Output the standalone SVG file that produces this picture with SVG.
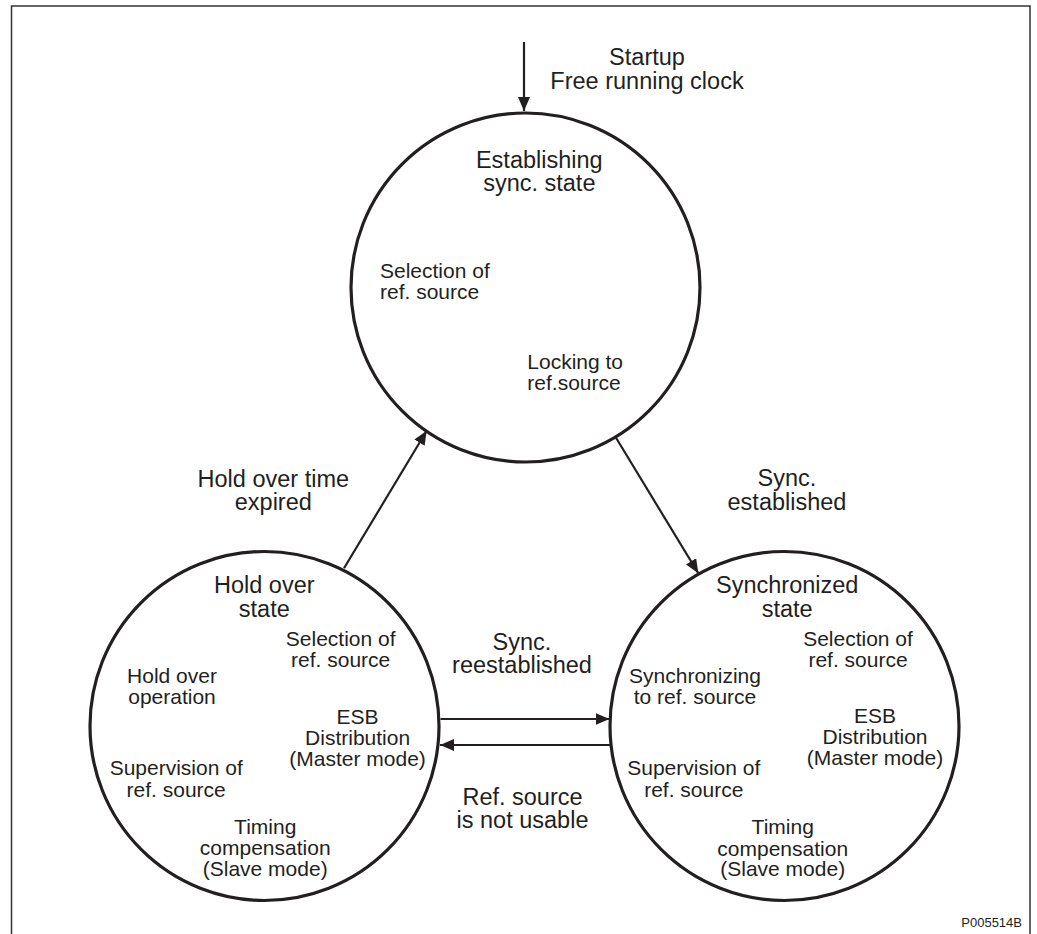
<svg xmlns="http://www.w3.org/2000/svg" width="1037" height="934" viewBox="0 0 1037 934">
<style>
text{font-family:"Liberation Sans",Arial,sans-serif;fill:#231f20;text-anchor:middle}
.t{font-size:23.5px}
.s{font-size:21px}
.l{text-anchor:start}
.id{font-size:13px;text-anchor:end}
.state{fill:#fff;stroke:#231f20;stroke-width:3.2}
.conn{fill:none;stroke:#231f20;stroke-width:2.2;marker-end:url(#ah)}
</style>
<defs>
<marker id="ah" viewBox="0 0 14 12" refX="14" refY="6" markerWidth="14" markerHeight="12" markerUnits="userSpaceOnUse" orient="auto">
<path d="M0,0 L14,6 L0,12 z" fill="#231f20"/>
</marker>
</defs>
<rect width="1037" height="934" fill="#fff"/>
<path d="M11.5,934 V6 H1030 V934" fill="none" stroke="#333" stroke-width="1.5"/>

<g id="connectors">
<line class="conn" x1="524" y1="42" x2="524" y2="111"/>
<line class="conn" x1="344" y1="568.3" x2="426.7" y2="430.7"/>
<line class="conn" x1="616" y1="437.7" x2="698.3" y2="573.3"/>
<line class="conn" x1="440.5" y1="719" x2="609.5" y2="719"/>
<line class="conn" x1="610.5" y1="745" x2="440" y2="745"/>
<text class="t" x="647" y="65">Startup</text>
<text class="t" x="647" y="89.3">Free running clock</text>
<text class="t" x="273.3" y="486.7">Hold over time</text>
<text class="t" x="273.3" y="510">expired</text>
<text class="t" x="787" y="486">Sync.</text>
<text class="t" x="787" y="510">established</text>
<text class="t" x="522" y="650">Sync.</text>
<text class="t" x="522" y="672.7">reestablished</text>
<text class="t" x="522.5" y="805">Ref. source</text>
<text class="t" x="522.5" y="828.3">is not usable</text>
</g>

<g id="establishing">
<circle class="state" cx="525.5" cy="287.5" r="174.5"/>
<text class="t" x="539.3" y="167.5">Establishing</text>
<text class="t" x="539.3" y="191">sync. state</text>
<text class="s l" x="380" y="278.3">Selection of</text>
<text class="s l" x="380" y="299.3">ref. source</text>
<text class="s l" x="527.3" y="369.3">Locking to</text>
<text class="s l" x="527.3" y="390">ref.source</text>
</g>

<g id="holdover">
<circle class="state" cx="264.5" cy="726" r="174.5"/>
<text class="t" x="264.3" y="593.3">Hold over</text>
<text class="t" x="264.3" y="616.7">state</text>
<text class="s" x="340.7" y="646">Selection of</text>
<text class="s" x="340.7" y="667">ref. source</text>
<text class="s" x="172" y="682.5">Hold over</text>
<text class="s" x="172" y="703.5">operation</text>
<text class="s" x="357.6" y="724">ESB</text>
<text class="s" x="357.6" y="745">Distribution</text>
<text class="s" x="357.6" y="765.5">(Master mode)</text>
<text class="s" x="176.2" y="775">Supervision of</text>
<text class="s" x="176.2" y="796.5">ref. source</text>
<text class="s" x="265.2" y="834">Timing</text>
<text class="s" x="265.2" y="855">compensation</text>
<text class="s" x="265.2" y="875.5">(Slave mode)</text>
</g>

<g id="synchronized">
<circle class="state" cx="784.5" cy="726" r="174.5"/>
<text class="t" x="787.2" y="593.3">Synchronized</text>
<text class="t" x="787.2" y="616.7">state</text>
<text class="s" x="858" y="646">Selection of</text>
<text class="s" x="858" y="667">ref. source</text>
<text class="s" x="695" y="682.7">Synchronizing</text>
<text class="s" x="695" y="704">to ref. source</text>
<text class="s" x="875" y="723">ESB</text>
<text class="s" x="875" y="744">Distribution</text>
<text class="s" x="875" y="765">(Master mode)</text>
<text class="s" x="693.8" y="775">Supervision of</text>
<text class="s" x="693.8" y="796.5">ref. source</text>
<text class="s" x="782.7" y="834">Timing</text>
<text class="s" x="782.7" y="855.5">compensation</text>
<text class="s" x="782.7" y="875.5">(Slave mode)</text>
</g>

<text class="id" x="1022" y="927">P005514B</text>
</svg>
